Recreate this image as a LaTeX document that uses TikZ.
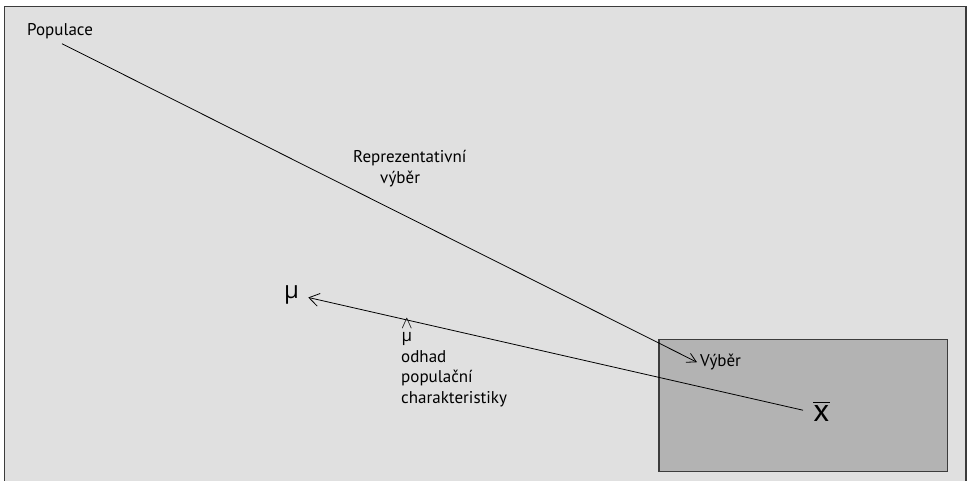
\documentclass[tikz,border=0pt]{standalone}
\usepackage{amsmath}
\usepackage{fontspec}
\setmainfont{PT Sans}
\newfontfamily\greekfont{Open Sans}
\usetikzlibrary{arrows.meta}

\definecolor{outerfill}{HTML}{E0E0E0}
\definecolor{innerfill}{HTML}{B3B3B3}
\definecolor{framegray}{HTML}{3C3C3C}

\begin{document}
\begin{tikzpicture}[x=1pt,y=-1pt,
    txt/.style={font=\fontsize{17}{20.5}\selectfont,inner sep=0pt,anchor=base west,align=left},
    sym/.style={inner sep=0pt,anchor=base west},
    link/.style={line width=0.8pt,-{Straight Barb[length=10pt,width=13pt,line width=0.8pt]}}]
  \useasboundingbox (0,0) rectangle (967,480);
  \fill[white] (0,0) rectangle (967,480);
  \draw[framegray,line width=1.5pt,fill=outerfill] (4.5,6.5) rectangle (966,483);
  \draw[framegray,line width=1.5pt,fill=innerfill] (659,339.5) rectangle (947.5,471.5);

  \node[txt] (populace) at (27,35.7)  {Populace};
  \node[txt] (reprez)   at (353,183.3) {Reprezentativní\\\hspace*{27pt}výběr};
  \node[txt] (odhad)    at (401,403)  {$\overset{\textstyle\wedge}{\text{\greekfont μ}}$\\odhad\\populační\\charakteristiky};
  \node[txt] (vyber)    at (700,366.7) {Výběr};
  \node[sym,font=\fontsize{24}{24}\greekfont] (mu) at (284,298) {μ};
  \node[sym,font=\fontsize{32}{32}\selectfont] (xbar) at (813,421.7) {$\overline{\text{x}}$};

  \path[link]
    ([shift={(35,8)}]populace.base west) edge [-{Straight Barb[length=9pt,width=10pt,line width=0.8pt]}] ([xshift=-3pt]vyber.west)
    ([xshift=-10pt,yshift=1pt]xbar.west) edge ([xshift=9pt,yshift=-3pt]mu.east)
  ;
\end{tikzpicture}
\end{document}
